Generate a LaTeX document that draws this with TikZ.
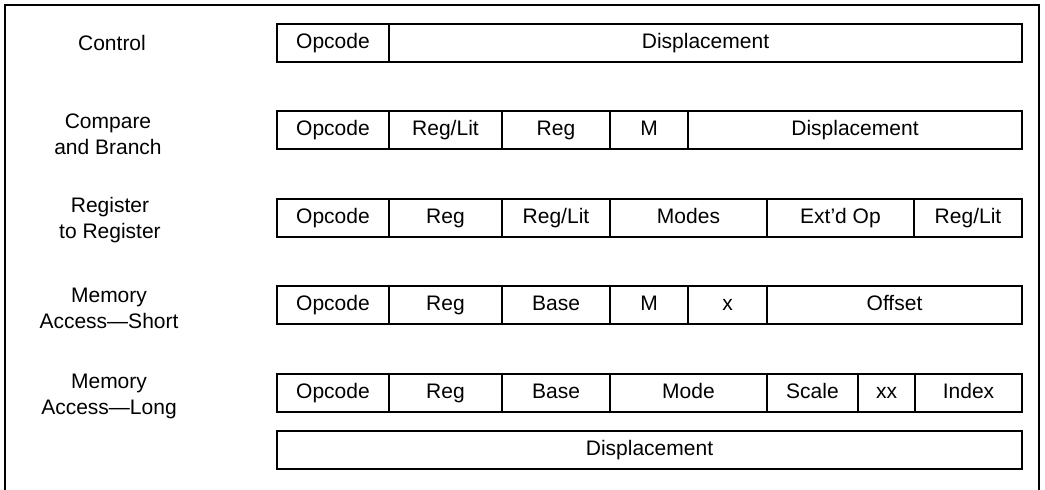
\documentclass[tikz,border=0pt]{standalone}
\usepackage{fontspec}
\setmainfont{Liberation Sans}
\usetikzlibrary{positioning}

\begin{document}
\begin{tikzpicture}[
  x=0.5pt,y=-0.5pt,
  fld/.style={draw,line width=1pt,outer sep=0pt,minimum height=19pt,inner sep=0pt,
    text height=7.6pt,text depth=2.2pt,font=\fontsize{10.5}{13}\selectfont},
  lbl/.style={align=center,font=\fontsize{10.5}{13}\selectfont},
  frame/.style={draw,line width=0.7pt}
]
\useasboundingbox (0,0) rectangle (1045,490);
\draw[frame] (5,490) |- (1039,5) -- (1039,490);

% row labels
\node[lbl] (lctl) at (112,43) {Control};
\node[lbl] (lcmp) at (108,134) {Compare\\and Branch};
\node[lbl] (lreg) at (110,220) {Register\\to Register};
\node[lbl] (lmas) at (109,308) {Memory\\Access—Short};
\node[lbl] (lmal) at (109,396) {Memory\\Access—Long};

% Control
\node[fld,minimum width=56pt,anchor=west] (ctlop) at (277,43) {Opcode};
\node[fld,minimum width=316.5pt,right=0pt of ctlop] (ctldisp) {Displacement};

% Compare and Branch
\node[fld,minimum width=56pt,anchor=west] (cmpop) at (277,130) {Opcode};
\node[fld,minimum width=56.5pt,right=0pt of cmpop] (cmprl) {Reg/Lit};
\node[fld,minimum width=54pt,right=0pt of cmprl] (cmpreg) {Reg};
\node[fld,minimum width=39pt,right=0pt of cmpreg] (cmpm) {M};
\node[fld,minimum width=167pt,right=0pt of cmpm] (cmpdisp) {Displacement};

% Register to Register
\node[fld,minimum width=56pt,anchor=west] (rrop) at (277,218) {Opcode};
\node[fld,minimum width=56.5pt,right=0pt of rrop] (rrreg) {Reg};
\node[fld,minimum width=54pt,right=0pt of rrreg] (rrrl) {Reg/Lit};
\node[fld,minimum width=78.5pt,right=0pt of rrrl] (rrmodes) {Modes};
\node[fld,minimum width=73.5pt,right=0pt of rrmodes] (rrext) {Ext’d Op};
\node[fld,minimum width=54pt,right=0pt of rrext] (rrrl2) {Reg/Lit};

% Memory Access--Short
\node[fld,minimum width=56pt,anchor=west] (masop) at (277,305) {Opcode};
\node[fld,minimum width=56.5pt,right=0pt of masop] (masreg) {Reg};
\node[fld,minimum width=54pt,right=0pt of masreg] (masbase) {Base};
\node[fld,minimum width=39pt,right=0pt of masbase] (masm) {M};
\node[fld,minimum width=39.5pt,right=0pt of masm] (masx) {x};
\node[fld,minimum width=127.5pt,right=0pt of masx] (masoff) {Offset};

% Memory Access--Long
\node[fld,minimum width=56pt,anchor=west] (malop) at (277,393) {Opcode};
\node[fld,minimum width=56.5pt,right=0pt of malop] (malreg) {Reg};
\node[fld,minimum width=54pt,right=0pt of malreg] (malbase) {Base};
\node[fld,minimum width=78.5pt,right=0pt of malbase] (malmode) {Mode};
\node[fld,minimum width=45.5pt,right=0pt of malmode] (malscale) {Scale};
\node[fld,minimum width=28.5pt,right=0pt of malscale] (malxx) {xx};
\node[fld,minimum width=53.5pt,right=0pt of malxx] (malidx) {Index};
\node[fld,minimum width=372.5pt,anchor=west] (maldisp) at (277,450) {Displacement};
\end{tikzpicture}
\end{document}
